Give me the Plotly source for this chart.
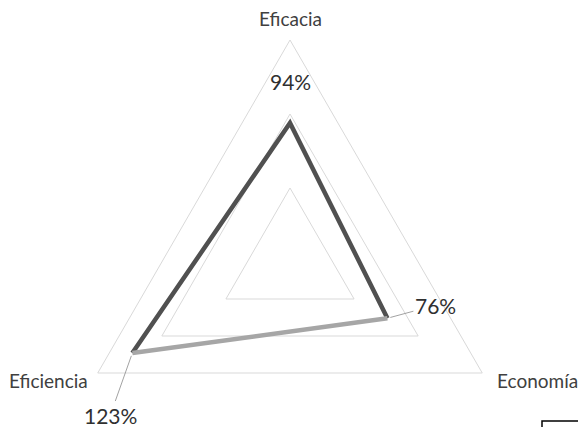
import numpy as np
import plotly.graph_objects as go

# ---------------- data ----------------
categories = ["Eficacia", "Economía", "Eficiencia"]
values = [0.94, 0.76, 1.23]
value_labels = ["94%", "76%", "123%"]
grid_ticks = [0.5, 1.0, 1.5]

# ---------------- geometry / style ----------------
W, H = 578, 427
CX, CY = 290, 262          # pixel position of the radar centre
UNIT = 148                 # pixels per 100 %
FONT = "Lato"
GRID = "#d9d9d9"

# radar angles: first axis at the top, going clockwise
angles = np.radians(90 - 120 * np.arange(len(categories)))


def to_xy(r, idx):
    r = np.asarray(r, dtype=float)
    a = angles[np.asarray(idx)]
    return r * np.cos(a), r * np.sin(a)


fig = go.Figure()

# grid triangles
for t in grid_ticks:
    idx = list(range(len(categories))) + [0]
    gx, gy = to_xy([t] * len(idx), idx)
    fig.add_trace(go.Scatter(x=gx, y=gy, mode="lines",
                             line=dict(color=GRID, width=1),
                             hoverinfo="skip", showlegend=False))

# data polygon: upper edges darker, bottom edge lighter
order_dark = [2, 0, 1]
order_light = [1, 2]
dx_, dy_ = to_xy([values[i] for i in order_dark], order_dark)
fig.add_trace(go.Scatter(x=dx_, y=dy_, mode="lines",
                         line=dict(color="#505050", width=4.5),
                         hoverinfo="skip", showlegend=False))
lx_, ly_ = to_xy([values[i] for i in order_light], order_light)
fig.add_trace(go.Scatter(x=lx_, y=ly_, mode="lines",
                         line=dict(color="#a6a6a6", width=4.5),
                         hoverinfo="skip", showlegend=False))

annotations = []
# category labels just outside the outer ring
rmax = max(grid_ticks)
cat_style = [  # (xshift, yshift, xanchor, yanchor)
    (0, 22, "center", "middle"),
    (13, -7, "left", "middle"),
    (-8, -7, "right", "middle"),
]
for i, c in enumerate(categories):
    cx, cy = to_xy(rmax, i)
    xs, ys, xa, ya = cat_style[i]
    annotations.append(dict(x=float(cx), y=float(cy), xref="x", yref="y", text=c,
                            showarrow=False, xshift=xs, yshift=ys,
                            xanchor=xa, yanchor=ya,
                            font=dict(family=FONT, size=19, color="#404040")))

# value labels (pixel offsets are styling)
val_style = [(0, -41, False), (48, -13, True), (-22, 62, True)]
for i, (v, lab) in enumerate(zip(values, value_labels)):
    vx, vy = to_xy(v, i)
    ox, oy, arrow = val_style[i]
    if arrow:
        annotations.append(dict(x=float(vx), y=float(vy), xref="x", yref="y", text=lab,
                                showarrow=True, ax=ox, ay=oy,
                                arrowhead=0, arrowwidth=0.8, arrowcolor="#8a8a8a",
                                standoff=3,
                                font=dict(family=FONT, size=21, color="#303030")))
    else:
        annotations.append(dict(x=float(vx), y=float(vy), xref="x", yref="y", text=lab,
                                showarrow=False, xshift=ox, yshift=-oy,
                                xanchor="center", yanchor="middle",
                                font=dict(family=FONT, size=21, color="#303030")))

fig.update_layout(
    width=W, height=H,
    margin=dict(l=0, r=0, t=0, b=0),
    paper_bgcolor="white", plot_bgcolor="white",
    showlegend=False,
    xaxis=dict(range=[-CX / UNIT, (W - CX) / UNIT], visible=False, fixedrange=True),
    yaxis=dict(range=[-(H - CY) / UNIT, CY / UNIT], visible=False, fixedrange=True),
    annotations=annotations,
    shapes=[dict(type="rect", xref="paper", yref="paper",
                 x0=542 / W, x1=600 / W, y0=1 - 421 / H, y1=1 - 440 / H,
                 line=dict(color="black", width=1.5))],
)

fig.write_html("out.html", config={"displayModeBar": False})
